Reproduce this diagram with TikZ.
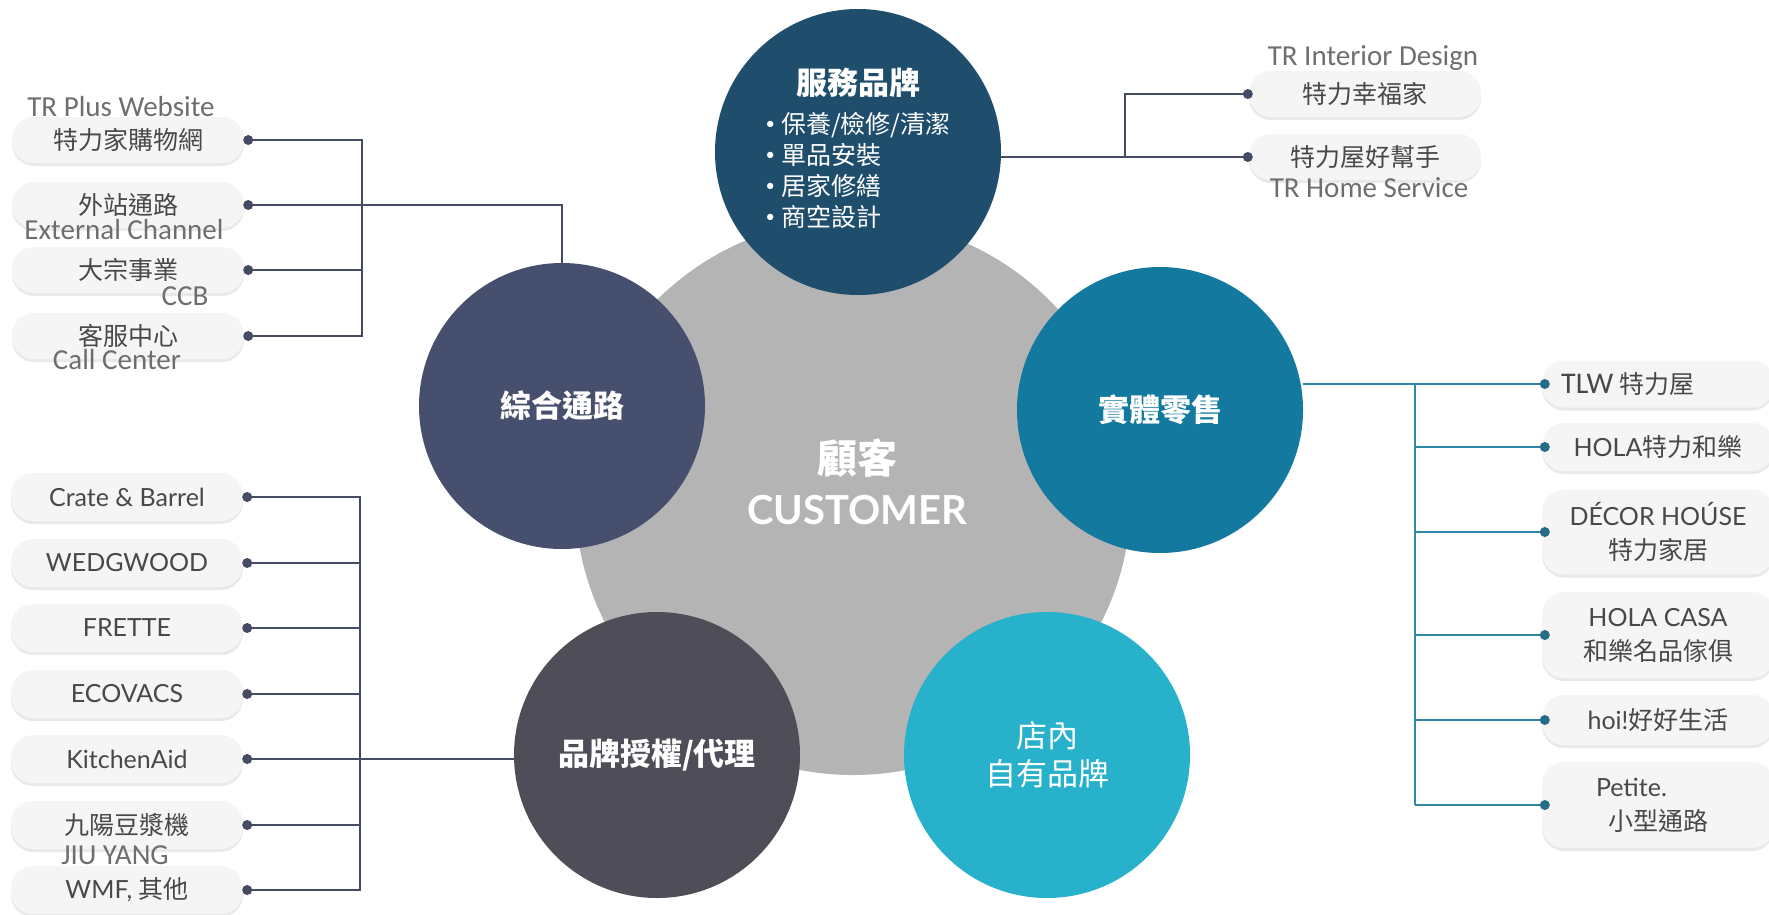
\documentclass[tikz,border=0pt]{standalone}
\usepackage{fontspec}
\setmainfont{Lato}
\newfontfamily\tcfont{Noto Sans CJK TC}
\newfontfamily\labfont{Carlito}
\usetikzlibrary{positioning,shadows,backgrounds}
\definecolor{svcblue}{HTML}{1F4D6C}
\definecolor{mixslate}{HTML}{464F6E}
\definecolor{retailteal}{HTML}{13799F}
\definecolor{licgray}{HTML}{4F4D58}
\definecolor{owncyan}{HTML}{27B1CB}
\definecolor{custgray}{HTML}{B4B4B4}
\definecolor{pillfill}{HTML}{F5F5F5}
\definecolor{pilltext}{HTML}{484848}
\definecolor{notetext}{HTML}{6E6E6E}
\definecolor{wire}{HTML}{454B62}
\definecolor{wireteal}{HTML}{2E87A7}
\newcommand\zh[1]{{\tcfont #1}}
\newcommand\pt{\raisebox{4pt}{\fontsize{17}{17}\selectfont•}\hspace{6pt}}

\begin{document}
\begin{tikzpicture}[x=1pt,y=-1pt,
  hub/.style={circle,minimum size=286pt,inner sep=0pt,text=white,align=center},
  hubfont/.style={font=\tcfont\bfseries\fontsize{31}{36}\selectfont},
  pill/.style={rectangle,rounded corners=22pt,fill=pillfill,text=pilltext,align=center,
    minimum width=232pt,inner sep=0pt,
    drop shadow={shadow xshift=0pt,shadow yshift=-3pt,opacity=0.35,fill=black!25}},
  dotL/.style={circle,fill=wire,minimum size=10pt,inner sep=0pt},
  dotR/.style={circle,fill=wireteal!80!black,minimum size=10pt,inner sep=0pt},
  annot/.style={text=notetext,font=\labfont\fontsize{29}{32}\selectfont,inner sep=0pt},
  wireL/.style={draw=wire,line width=2.2pt},
  wireR/.style={draw=wireteal,line width=2.2pt}]
  \useasboundingbox (0,0) rectangle (1769,914);

  \node[circle,fill=custgray,minimum size=556pt,inner sep=0pt] (cust) at (853,497) {};
  \node[text=white,align=center,font=\bfseries\fontsize{40}{51}\selectfont] (custlab) at (857,482) {\zh{顧客}\\CUSTOMER};

  \node[hub,fill=svcblue] (svc) at (858,152) {{\tcfont\bfseries\fontsize{31}{36}\selectfont 服務品牌}\\[14pt]
    {\fontsize{25}{31}\selectfont\begin{tabular}{@{}l@{}}\pt\zh{保養/檢修/清潔}\\\pt\zh{單品安裝}\\\pt\zh{居家修繕}\\\pt\zh{商空設計}\end{tabular}}};
  \node[hub,hubfont,fill=mixslate] (mix) at (562,406) {綜合通路};
  \node[hub,hubfont,fill=retailteal] (retail) at (1160,410) {實體零售};
  \node[hub,hubfont,fill=licgray] (lic) at (657,755) {品牌授權/代理};
  \node[hub,fill=owncyan,font=\tcfont\fontsize{31}{38}\selectfont] (own) at (1047,755) {店內\\自有品牌};

  \foreach \i/\y/\lab in {1/140/特力家購物網, 2/205/外站通路, 3/270/大宗事業, 4/336/客服中心}{
    \node[pill,minimum height=46pt,font=\tcfont\fontsize{25}{30}\selectfont] (W\i) at (128,\y) {\lab};
    \node[dotL] (Wd\i) at ([xshift=4pt]W\i.east) {};
  }
  \foreach \i/\y/\lab in {1/497/Crate \& Barrel, 2/563/WEDGWOOD, 3/628/FRETTE, 4/694/ECOVACS,
      5/759/KitchenAid, 6/825/\zh{九陽豆漿機}, 7/890/{WMF, \zh{其他}}}{
    \node[pill,minimum height=48pt,font=\fontsize{25}{30}\selectfont] (B\i) at (127,\y) {\lab};
    \node[dotL] (Bd\i) at ([xshift=4pt]B\i.east) {};
  }
  \foreach \i/\y/\lab in {1/94/特力幸福家, 2/157/特力屋好幫手}{
    \node[pill,minimum height=46pt,font=\tcfont\fontsize{25}{30}\selectfont] (T\i) at (1365,\y) {\lab};
    \node[dotL] (Td\i) at ([xshift=-1pt]T\i.west) {};
  }
  \foreach \i/\y/\h/\lab in {1/384/47/{{\labfont\fontsize{30}{30}\selectfont TLW} \zh{特力屋}\kern60pt},
      2/447/48/HOLA\zh{特力和樂}, 3/532/85/DÉCOR HOÚSE\\\zh{特力家居},
      4/635/86/HOLA CASA\\\zh{和樂名品傢俱}, 5/720/50/hoi!\zh{好好生活},
      6/805/86/\makebox[124pt][l]{Petite.}\\\zh{小型通路}}{
    \node[pill,minimum height=\h pt,font=\fontsize{25}{34}\selectfont] (R\i) at (1658,\y) {\lab};
    \node[dotR] (Rd\i) at ([xshift=3pt]R\i.west) {};
  }

  \coordinate (busW) at (362,0);
  \coordinate (busB) at (360,0);
  \coordinate (busT) at (1125,0);
  \coordinate (busR) at (1415,0);
  \begin{scope}[on background layer]
    \draw[wireL] (Wd1.center) -- (Wd1 -| busW) -- (Wd4 -| busW) -- (Wd4.center);
    \draw[wireL] (Wd3.center) -- (Wd3 -| busW);
    \draw[wireL] (Wd2.center) -| (mix.north);
    \draw[wireL] (Bd1.center) -- (Bd1 -| busB) -- (Bd7 -| busB) -- (Bd7.center);
    \foreach \i in {2,3,4,6} \draw[wireL] (Bd\i.center) -- (Bd\i -| busB);
    \draw[wireL] (Bd5.center) -- (Bd5 -| lic.west);
    \draw[wireL] (Td2.center) -- (Td2 -| svc.east);
    \draw[wireL] (Td1.center) -- (Td1 -| busT) -- (Td2 -| busT);
    \draw[wireR] (Rd1.center) -- (Rd1 -| retail.east);
    \draw[wireR] (Rd1 -| busR) -- (Rd6 -| busR);
    \foreach \i in {2,...,6} \draw[wireR] (Rd\i.center) -- (Rd\i -| busR);
  \end{scope}

  \node[annot] (noteWeb) at (121,107) {TR Plus Website};
  \node[annot] (noteExt) at (124,230) {External Channel};
  \node[annot] (noteCcb) at (185,296) {CCB};
  \node[annot] (noteCall) at (117,360) {Call Center};
  \node[annot] (noteJiu) at (115,855) {JIU YANG};
  \node[annot] (noteDesign) at (1373,58) {TR Interior Design};
  \node[annot] (noteHome) at (1369,188) {TR Home Service};
\end{tikzpicture}
\end{document}
